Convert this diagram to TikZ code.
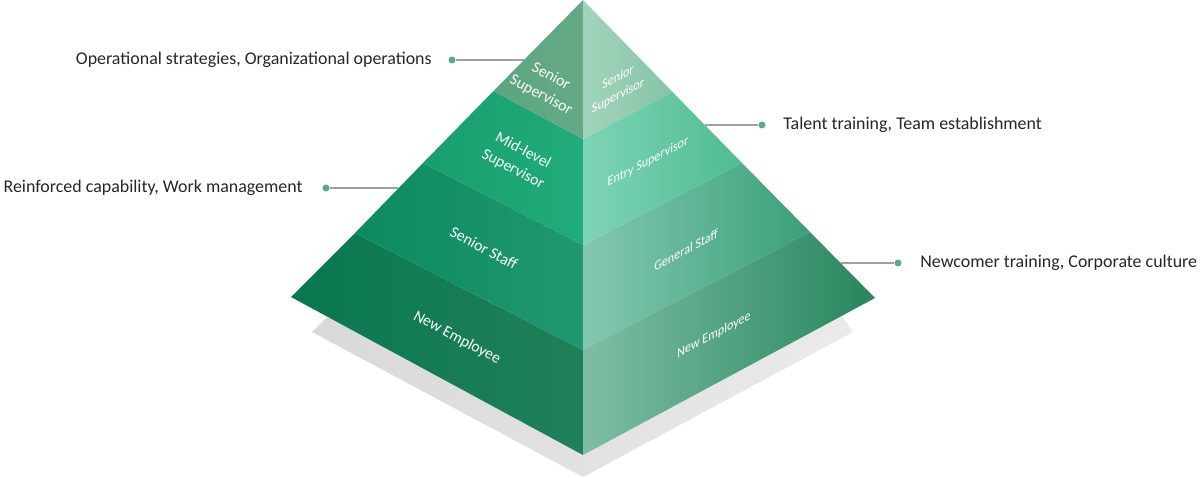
\documentclass[tikz,border=0pt]{standalone}
\usepackage{fontspec}
\setmainfont{Carlito}
\definecolor{dotgreen}{RGB}{90,172,124}
\definecolor{lnegray}{RGB}{160,160,160}

\begin{document}
\begin{tikzpicture}[x=0.02cm,y=-0.02cm,
	lefttxt/.style={text=white, font=\fontsize{9}{12}\selectfont, align=center, rotate=-28},
	righttxt/.style={text=white, font=\fontsize{7.8}{10.5}\selectfont, align=center, yslant=0.53, xscale=0.88},
	lbl/.style={text=black!85, font=\fontsize{10.2}{12}\selectfont, inner sep=0pt},
	dot/.style={circle, fill=dotgreen, inner sep=0pt, minimum size=0.14cm},
	lead/.style={draw=lnegray, line width=0.6pt}]
	%\draw[help lines] (0,0) grid[step=100] (1200,477);
	\useasboundingbox (0,0) rectangle (1200,477);
	% shadow
	\shade[left color=black!15, right color=black!8] (312,332) -- (583,477) -- (853,332) -- (842,316) -- (583,300) -- (326,318) -- cycle;
	% left face
	\shade[left color={rgb,255:red,8;green,120;blue,78}, right color={rgb,255:red,32;green,128;blue,90}] (291,297) -- (583,455) -- (583,350) -- (355,233) -- cycle;
	\shade[left color={rgb,255:red,12;green,138;blue,94}, right color={rgb,255:red,32;green,152;blue,112}] (355,233) -- (583,350) -- (583,245) -- (423,163) -- cycle;
	\shade[left color={rgb,255:red,24;green,158;blue,108}, right color={rgb,255:red,32;green,172;blue,122}] (423,163) -- (583,245) -- (583,139) -- (493.5,91) -- cycle;
	\shade[left color={rgb,255:red,92;green,164;blue,126}, right color={rgb,255:red,100;green,170;blue,134}] (493.5,91) -- (583,139) -- (583,0) -- cycle;
	% right face
	\shade[left color={rgb,255:red,126;green,190;blue,164}, right color={rgb,255:red,38;green,134;blue,94}] (583,455) -- (875,298) -- (810,232) -- (583,350) -- cycle;
	\shade[left color={rgb,255:red,132;green,200;blue,176}, right color={rgb,255:red,58;green,160;blue,120}] (583,350) -- (810,232) -- (742,163) -- (583,245) -- cycle;
	\shade[left color={rgb,255:red,126;green,212;blue,182}, right color={rgb,255:red,78;green,188;blue,144}] (583,245) -- (742,163) -- (672.5,92) -- (583,139) -- cycle;
	\shade[left color={rgb,255:red,162;green,212;blue,188}, right color={rgb,255:red,132;green,196;blue,166}] (583,139) -- (672.5,92) -- (583,0) -- cycle;
	% layer names
	\node[lefttxt] (ls1) at (546,86) {Senior\\Supervisor};
	\node[lefttxt] (ls2) at (518,160) {Mid-level\\Supervisor};
	\node[lefttxt] (ls3) at (484,248) {Senior Staff};
	\node[lefttxt] (ls4) at (457,338) {New Employee};
	\node[righttxt] (rs1) at (618,87) {Senior\\Supervisor};
	\node[righttxt] (rs2) at (648,162) {Entry Supervisor};
	\node[righttxt] (rs3) at (686,250) {General Staff};
	\node[righttxt] (rs4) at (714,335) {New Employee};
	% side notes
	\coordinate (e1) at (524,60);
	\coordinate (e2) at (398,188);
	\coordinate (e3) at (705,125);
	\coordinate (e4) at (841,263);
	\node[dot] (d1) at (452,60) {};
	\node[dot] (d2) at (326,188) {};
	\node[dot] (d3) at (762,125) {};
	\node[dot] (d4) at (898,263) {};
	\node[lbl, anchor=east] (t1) at (432,60) {Operational strategies, Organizational operations};
	\node[lbl, anchor=east] (t2) at (303,188) {Reinforced capability, Work management};
	\node[lbl, anchor=west] (t3) at (783,125) {Talent training, Team establishment};
	\node[lbl, anchor=west] (t4) at (920,263) {Newcomer training, Corporate culture};
	\draw[lead] (d1) -- (e1);
	\draw[lead] (d2) -- (e2);
	\draw[lead] (d3) -- (e3);
	\draw[lead] (d4) -- (e4);
\end{tikzpicture}
\end{document}
